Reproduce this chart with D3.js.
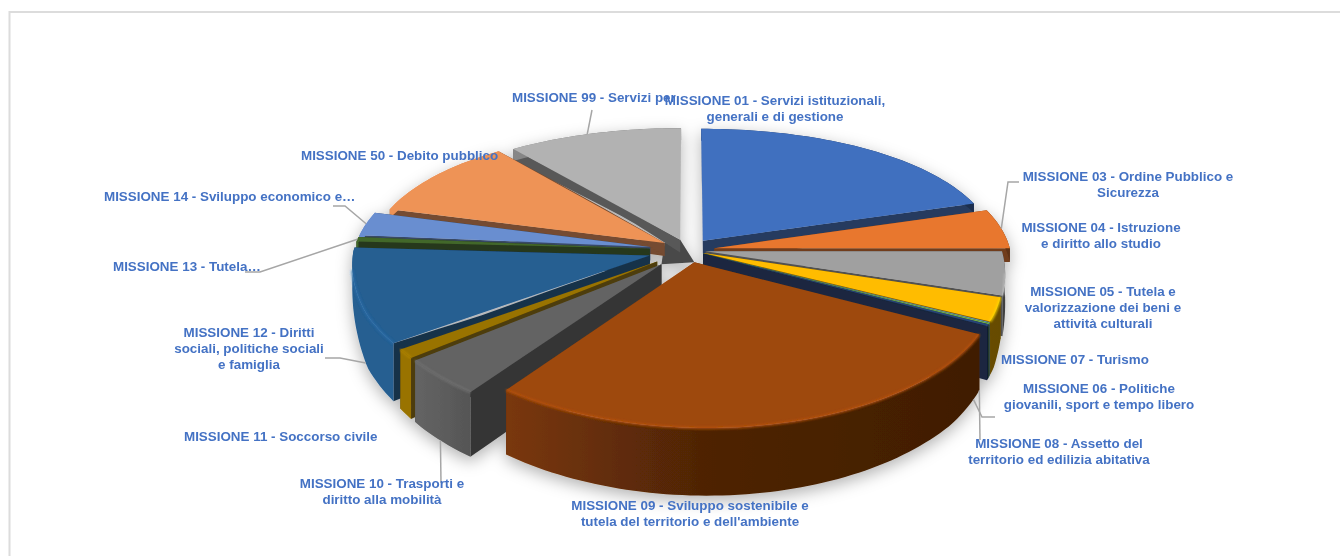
<!DOCTYPE html>
<html>

<head>
  <title>Missioni</title>
  <script src="https://d3js.org/d3.v7.min.js"></script>
  <style>
    body {
      margin: 0;
      background: #fff;
    }

    svg text {
      font-family: "Liberation Sans", Arial, sans-serif;
      font-size: 13.4px;
      font-weight: bold;
      fill: #4472c4;
      filter: blur(0.25px);
    }
  </style>
</head>

<body>
  <svg id="chart" width="1340" height="556"></svg>

  <script>
    const missions = ["01", "03", "04", "05", "06", "07", "08", "09", "10", "11", "12", "13", "14", "50", "99"];

    // share of the total, percent
    const shares = [20.3, 4.7, 4.4, 2.5, 0.08, 0.14, 0.2, 28.3, 4.2, 1.0, 10.0, 0.55, 2.8, 10.0, 10.8];

    const labelLines = [
      ["MISSIONE 01 - Servizi istituzionali,", "generali e di gestione"],
      ["MISSIONE 03 - Ordine Pubblico e", "Sicurezza"],
      ["MISSIONE 04 - Istruzione", "e diritto allo studio"],
      ["MISSIONE 05 - Tutela e", "valorizzazione dei beni e", "attività culturali"],
      ["MISSIONE 06 - Politiche", "giovanili, sport e tempo libero"],
      ["MISSIONE 07 - Turismo"],
      ["MISSIONE 08 - Assetto del", "territorio ed edilizia abitativa"],
      ["MISSIONE 09 - Sviluppo sostenibile e", "tutela del territorio e dell'ambiente"],
      ["MISSIONE 10 - Trasporti e", "diritto alla mobilità"],
      ["MISSIONE 11 - Soccorso civile"],
      ["MISSIONE 12 - Diritti", "sociali, politiche sociali", "e famiglia"],
      ["MISSIONE 13 - Tutela…"],
      ["MISSIONE 14 - Sviluppo economico e…"],
      ["MISSIONE 50 - Debito pubblico"],
      ["MISSIONE 99 - Servizi per"]
    ];

    const colors = ["#4070bf", "#e8772e", "#a0a0a0", "#ffbc00", "#5b9bd5", "#70ad47", "#264478", "#9e480b",
      "#636363", "#997300", "#255e91", "#43682b", "#698ed0", "#ee9357", "#b2b2b2"];

    // how far each slice is pulled out of the pie
    const explode = [0.085, 0.09, 0.06, 0.055, 0.055, 0.055, 0.055, 0.08, 0.13, 0.13, 0.135, 0.13, 0.13, 0.095, 0.08];

    // label anchor [x, first baseline, text-anchor]
    const labelPos = [
      [775, 105, "middle"], [1128, 181, "middle"], [1101, 232, "middle"], [1103, 296, "middle"],
      [1099, 393, "middle"], [1001, 364, "start"], [1059, 448, "middle"], [690, 510, "middle"],
      [382, 488, "middle"], [184, 441, "start"], [249, 337, "middle"], [113, 271, "start"],
      [104, 201, "start"], [301, 160, "start"], [512, 102, "start"]
    ];

    // leader lines: slice index, where along the slice, on top rim or base, bend points
    const leaders = [
      { i: 14, t: 0.46, base: false, via: [[592, 110]] },
      { i: 1, t: 0.5, base: false, via: [[1008, 182], [1019, 182]] },
      { i: 7, t: 0.03, base: true, via: [[982, 417], [995, 417]] },
      { i: 7, t: 0, base: true, via: [[980, 440]] },
      { i: 8, t: 0.5, base: true, via: [[441, 483]] },
      { i: 10, t: 0.35, base: true, via: [[340, 358], [325, 358]] },
      { i: 11, t: 0.5, base: false, via: [[260, 272], [245, 272]] },
      { i: 12, t: 0.5, base: false, via: [[345, 206], [333, 206]] }
    ];

    const svg = d3.select("#chart");
    const cx = 688, cy = 250;

    // fake perspective: the pie gets wider and taller toward the viewer
    const rxScale = d3.scaleLinear().domain([-1, 1]).range([262, 330]);
    const heightScale = d3.scaleLinear()
      .domain([-1.2, -0.8, -0.3, 0, 0.4, 0.7, 1.1])
      .range([12, 12, 9, 14, 52, 62, 68]);
    const skewScale = d3.scaleLinear().domain([0, 0.7, 1.2]).range([0, 10, 14]).clamp(true);
    const dropScale = d3.scaleLinear().domain([0, 0.4, 1.2]).range([0, 7, 3]).clamp(true);
    const wallShade = d3.scaleLinear()
      .domain([350, 420, 500, 700, 1000])
      .range([1, 1, 0.78, 0.5, 0.4]);

    function project(px, py, onBase) {
      const x = cx + px * rxScale(py) + skewScale(py) * (1 - 0.4 * px);
      const y = cy + 137.5 * py + 22.5 * py * py + dropScale(py);
      return [x, onBase ? y + heightScale(py) : y];
    }

    const slices = d3.pie().sort(null).value(d => d)(shares).map((s, i) => {
      const mid = (s.startAngle + s.endAngle) / 2;
      return {
        i,
        a0: s.startAngle,
        a1: s.endAngle,
        mid,
        ox: explode[i] * Math.sin(mid),
        oy: -explode[i] * Math.cos(mid),
        color: colors[i]
      };
    });

    function pointAt(s, angle, r, onBase) {
      return project(s.ox + r * Math.sin(angle), s.oy - r * Math.cos(angle), onBase);
    }

    function rim(s, onBase) {
      const n = Math.max(2, Math.ceil((s.a1 - s.a0) * 40));
      return d3.range(n + 1).map(k => pointAt(s, s.a0 + (s.a1 - s.a0) * k / n, 1, onBase));
    }

    function cutWall(s, angle) {
      const rs = d3.range(13).map(k => k / 12);
      const top = rs.map(r => pointAt(s, angle, r, false));
      const bottom = rs.map(r => pointAt(s, angle, r, true));
      return top.concat(bottom.reverse());
    }

    const line = d3.line();
    const closed = pts => line(pts) + "Z";

    function scaleColor(c, k) {
      const col = d3.rgb(c);
      return d3.rgb(col.r * k, col.g * k, col.b * k).formatHex();
    }

    const defs = svg.append("defs");

    const shadow = defs.append("filter").attr("id", "pie-shadow")
      .attr("x", "-10%").attr("y", "-10%").attr("width", "120%").attr("height", "125%");
    shadow.append("feGaussianBlur").attr("in", "SourceGraphic").attr("stdDeviation", 0.5).attr("result", "soft");
    shadow.append("feDropShadow").attr("in", "soft").attr("dx", 0).attr("dy", 5).attr("stdDeviation", 8)
      .attr("flood-color", "#000").attr("flood-opacity", 0.3);

    defs.append("filter").attr("id", "rim-blur")
      .append("feGaussianBlur").attr("stdDeviation", 1.1);

    slices.forEach(s => {
      const grad = defs.append("linearGradient")
        .attr("id", `wall-${s.i}`)
        .attr("gradientUnits", "userSpaceOnUse")
        .attr("x1", 350).attr("x2", 1000).attr("y1", 0).attr("y2", 0);
      wallShade.domain().forEach(x => {
        grad.append("stop")
          .attr("offset", (x - 350) / 650)
          .attr("stop-color", scaleColor(s.color, wallShade(x)));
      });
    });

    // frame, only top and left show
    svg.append("path")
      .attr("d", line([[9.5, 556], [9.5, 12], [1340, 12]]))
      .attr("fill", "none")
      .attr("stroke", "#dcdcdc")
      .attr("stroke-width", 2);

    const pie = svg.append("g").attr("filter", "url(#pie-shadow)");

    // dark inside of the pie, seen in the gap between the slice tips
    const tip = i => pointAt(slices[i], slices[i].a0, 0, false);
    pie.append("path")
      .attr("d", closed([tip(13), tip(14), tip(7), tip(8)]))
      .attr("fill", "#4a4a4a");

    // far slices first so the near ones paint over them
    const nearest = s => d3.max(rim(s, false), p => p[1]);
    const drawOrder = slices.slice().sort((a, b) => nearest(a) - nearest(b));

    drawOrder.forEach(s => {
      const g = pie.append("g");
      const cutColor = d3.interpolateRgb(s.color, "#101010")(0.55);

      g.append("path").attr("d", closed(cutWall(s, s.a0))).attr("fill", cutColor);
      g.append("path").attr("d", closed(cutWall(s, s.a1))).attr("fill", cutColor);

      g.append("path")
        .attr("d", closed(rim(s, false).concat(rim(s, true).reverse())))
        .attr("fill", `url(#wall-${s.i})`);

      const apex = pointAt(s, s.a0, 0, false);
      g.append("path")
        .attr("d", closed([apex].concat(rim(s, false))))
        .attr("fill", s.color);

      // lit edge along the front of the rim
      const nearRim = rim(s, false).filter(p => p[1] > cy + 20);
      if (nearRim.length > 1) {
        g.append("path")
          .attr("d", line(nearRim))
          .attr("fill", "none")
          .attr("stroke", d3.rgb(s.color).brighter(0.45))
          .attr("stroke-width", 2.5)
          .attr("opacity", 0.8)
          .attr("filter", "url(#rim-blur)");
      }
    });

    // leader lines
    leaders.forEach(l => {
      const s = slices[l.i];
      const anchor = pointAt(s, s.a0 + (s.a1 - s.a0) * l.t, 1, l.base);
      svg.append("path")
        .attr("d", line([anchor].concat(l.via)))
        .attr("fill", "none")
        .attr("stroke", "#a6a6a6")
        .attr("stroke-width", 1.5);
    });

    // labels, 99 first so that 01 overlaps it as in the original
    const labelOrder = d3.range(missions.length).sort((a, b) => (b === 14) - (a === 14));
    labelOrder.forEach(i => {
      const [x, y, anchor] = labelPos[i];
      labelLines[i].forEach((txt, k) => {
        svg.append("text")
          .attr("x", x)
          .attr("y", y + k * 16)
          .attr("text-anchor", anchor)
          .text(txt);
      });
    });
  </script>
</body>

</html>
